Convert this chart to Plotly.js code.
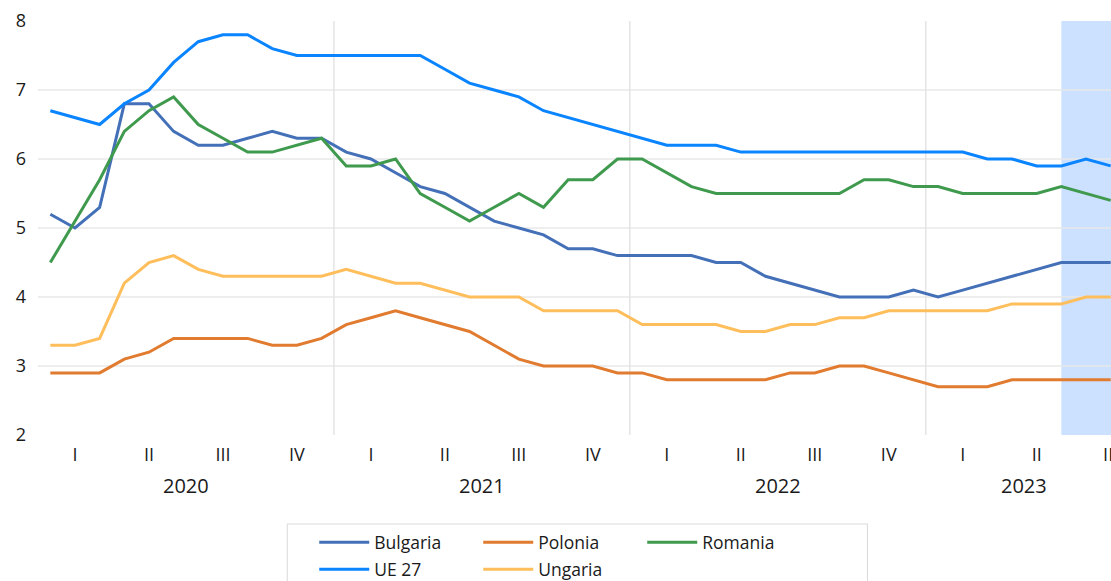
<!DOCTYPE html>
<html>
<head>
<meta charset="utf-8">
<script src="https://cdn.plot.ly/plotly-3.0.1.min.js"></script>
<style>
html, body { margin: 0; padding: 0; overflow: hidden; background: #fff; }
#chart { width: 1123px; height: 581px; }
</style>
</head>
<body>
<div id="chart"></div>
<script>
const months = ['2020-01','2020-02','2020-03','2020-04','2020-05','2020-06','2020-07','2020-08','2020-09','2020-10','2020-11','2020-12',
  '2021-01','2021-02','2021-03','2021-04','2021-05','2021-06','2021-07','2021-08','2021-09','2021-10','2021-11','2021-12',
  '2022-01','2022-02','2022-03','2022-04','2022-05','2022-06','2022-07','2022-08','2022-09','2022-10','2022-11','2022-12',
  '2023-01','2023-02','2023-03','2023-04','2023-05','2023-06','2023-07','2023-08'];

const bulgaria = [5.2,5.0,5.3,6.8,6.8,6.4,6.2,6.2,6.3,6.4,6.3,6.3,
  6.1,6.0,5.8,5.6,5.5,5.3,5.1,5.0,4.9,4.7,4.7,4.6,
  4.6,4.6,4.6,4.5,4.5,4.3,4.2,4.1,4.0,4.0,4.0,4.1,
  4.0,4.1,4.2,4.3,4.4,4.5,4.5,4.5];
const polonia = [2.9,2.9,2.9,3.1,3.2,3.4,3.4,3.4,3.4,3.3,3.3,3.4,
  3.6,3.7,3.8,3.7,3.6,3.5,3.3,3.1,3.0,3.0,3.0,2.9,
  2.9,2.8,2.8,2.8,2.8,2.8,2.9,2.9,3.0,3.0,2.9,2.8,
  2.7,2.7,2.7,2.8,2.8,2.8,2.8,2.8];
const romania = [4.5,5.1,5.7,6.4,6.7,6.9,6.5,6.3,6.1,6.1,6.2,6.3,
  5.9,5.9,6.0,5.5,5.3,5.1,5.3,5.5,5.3,5.7,5.7,6.0,
  6.0,5.8,5.6,5.5,5.5,5.5,5.5,5.5,5.5,5.7,5.7,5.6,
  5.6,5.5,5.5,5.5,5.5,5.6,5.5,5.4];
const ue27 = [6.7,6.6,6.5,6.8,7.0,7.4,7.7,7.8,7.8,7.6,7.5,7.5,
  7.5,7.5,7.5,7.5,7.3,7.1,7.0,6.9,6.7,6.6,6.5,6.4,
  6.3,6.2,6.2,6.2,6.1,6.1,6.1,6.1,6.1,6.1,6.1,6.1,
  6.1,6.1,6.0,6.0,5.9,5.9,6.0,5.9];
const ungaria = [3.3,3.3,3.4,4.2,4.5,4.6,4.4,4.3,4.3,4.3,4.3,4.3,
  4.4,4.3,4.2,4.2,4.1,4.0,4.0,4.0,3.8,3.8,3.8,3.8,
  3.6,3.6,3.6,3.6,3.5,3.5,3.6,3.6,3.7,3.7,3.8,3.8,
  3.8,3.8,3.8,3.9,3.9,3.9,4.0,4.0];

const quarterTicks = ['2020-02','2020-05','2020-08','2020-11','2021-02','2021-05','2021-08','2021-11',
  '2022-02','2022-05','2022-08','2022-11','2023-02','2023-05','2023-08'];
const quarterLabels = ['I','II','III','IV','I','II','III','IV','I','II','III','IV','I','II','III'];
const years = ['2020','2021','2022','2023'];
const yTicks = [2,3,4,5,6,7,8];
const shadedFrom = '2023-06';

const seriesNames = ['Bulgaria','Polonia','Romania','UE 27','Ungaria'];
const seriesData = [bulgaria, polonia, romania, ue27, ungaria];
const seriesColors = ['#4470b8','#e07b30','#3f9a4e','#0a84ff','#ffbe5c'];
const legendOf = ['legend','legend','legend','legend2','legend2'];

const traces = seriesNames.map((n, i) => ({
  type: 'scatter', mode: 'lines', name: n, x: months, y: seriesData[i],
  line: {color: seriesColors[i], width: 3}, legend: legendOf[i]
}));

const idx = m => months.indexOf(m);
const yearCenters = years.map(y => {
  const ids = months.map((m, i) => m.startsWith(y) ? i : -1).filter(i => i >= 0);
  return (ids[0] + ids[ids.length - 1]) / 2;
});
const yearBounds = years.slice(1).map(y => idx(y + '-01') - 0.5);

const shapes = [];
shapes.push({type:'rect', xref:'x', yref:'paper', x0: idx(shadedFrom), x1: months.length - 0.5, y0: 0, y1: 1,
  fillcolor:'rgb(204,224,255)', line:{width:0}, layer:'below'});
[3,4,5,6,7].forEach(v => shapes.push({type:'line', xref:'paper', yref:'y', x0:0, x1:1, y0:v, y1:v,
  line:{color:'#e9e9e9', width:1.5}, layer:'below'}));
yearBounds.forEach(b => shapes.push({type:'line', xref:'x', yref:'paper', x0:b, x1:b, y0:0, y1:1,
  line:{color:'#e4e4e4', width:1.5}, layer:'below'}));
// legend frame
shapes.push({type:'rect', xref:'paper', yref:'paper', x0:0.2297, x1:0.7645, y0:-0.215, y1:-0.40,
  line:{color:'#d9d9d9', width:1}, fillcolor:'rgba(0,0,0,0)'});

const annotations = years.map((y, i) => ({
  text: y, x: yearCenters[i], xref:'x', y: -0.123, yref:'paper', showarrow:false,
  font:{family:'Open Sans, sans-serif', size:20, color:'#1a1a1a'}, yanchor:'middle'
}));

const legendCommon = {
  orientation:'h', xref:'paper', yref:'paper', xanchor:'left', yanchor:'top',
  font:{family:'Open Sans, sans-serif', size:17.5, color:'#1a1a1a'},
  bgcolor:'rgba(0,0,0,0)', borderwidth:0, entrywidth:99, itemwidth:50,
  itemclick:false, itemdoubleclick:false
};

const layout = {
  width: 1123, height: 581,
  margin: {l: 38, r: 0, t: 21, b: 146, autoexpand: false},
  paper_bgcolor:'#fff', plot_bgcolor:'#fff',
  font:{family:'Open Sans, sans-serif', color:'#1a1a1a'},
  xaxis: {type:'category', range:[-0.5, months.length - 0.5], showgrid:false, zeroline:false, showline:false,
    tickmode:'array', tickvals: quarterTicks, ticktext: quarterLabels, ticks:'',
    tickfont:{size:18, color:'#1a1a1a'}, ticklabelstandoff: 7, fixedrange:true, automargin:false},
  yaxis: {range:[2, 8], showgrid:false, zeroline:false, showline:false, tickmode:'array', tickvals: yTicks,
    ticks:'', tickfont:{size:18, color:'#1a1a1a'}, ticklabelstandoff: 11, fixedrange:true, automargin:false},
  showlegend: true,
  legend: Object.assign({}, legendCommon, {x: 0.2546, y: -0.216}),
  legend2: Object.assign({}, legendCommon, {x: 0.2546, y: -0.281}),
  shapes: shapes,
  annotations: annotations
};

Plotly.newPlot('chart', traces, layout, {displayModeBar:false});
</script>
</body>
</html>
